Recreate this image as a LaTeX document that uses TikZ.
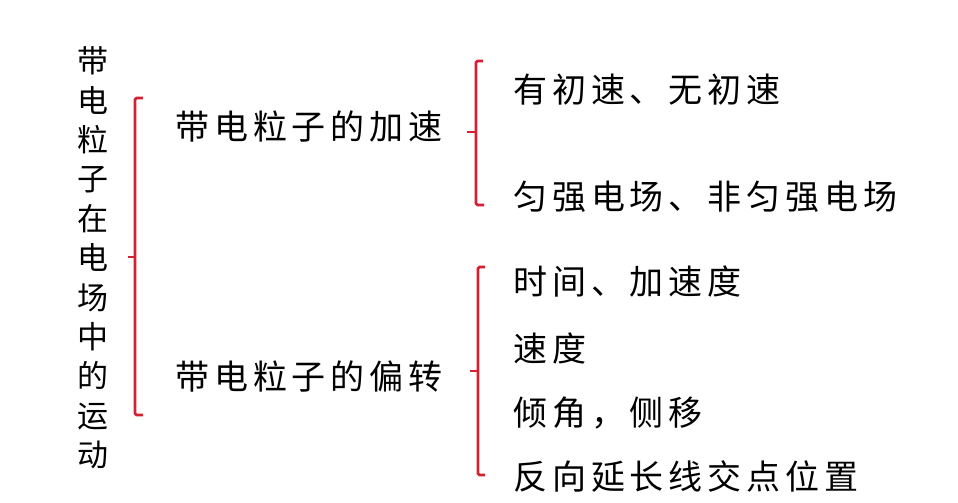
\documentclass[tikz,border=0pt]{standalone}
\usepackage{fontspec}
\setmainfont{Noto Sans CJK SC}[LetterSpace=14.5]
\usepackage{xcolor}
\usepackage{tikz}
\usetikzlibrary{positioning,calc}

\definecolor{bracered}{RGB}{212,32,48}

\begin{document}
\begin{tikzpicture}[
    x=1pt, y=-1pt,
    txt/.style={anchor=west, inner sep=0pt, font=\fontsize{34}{44}\selectfont},
    brace/.style={draw=bracered, line width=2.8pt, rounded corners=1.5pt}
]
    \useasboundingbox (0,0) rectangle (958,503);

    % Title, set vertically
    \node[inner sep=0pt, align=center, font=\fontsize{31}{39.4}\selectfont] (title) at (93,258)
        {带\\电\\粒\\子\\在\\电\\场\\中\\的\\运\\动};

    % Second level
    \node[txt] (acc) at (175,127) {带电粒子的加速};
    \node[txt] (def) at (175,377) {带电粒子的偏转};

    % Leaves of acceleration
    \node[txt] (acc1) at (513,90) {有初速、无初速};
    \node[txt] (acc2) at (513,197) {匀强电场、非匀强电场};

    % Leaves of deflection
    \node[txt] (def1) at (513,282) {时间、加速度};
    \node[txt] (def2) at (513,348) {速度};
    \node[txt] (def3) at (513,413) {倾角，侧移};
    \node[txt] (def4) at (513,477) {反向延长线交点位置};

    % Brace points
    \coordinate (b0) at (135,257);
    \coordinate (b1) at (476,132);
    \coordinate (b2) at (478,371);

    % Big brace
    \draw[brace] ($(b0)+(8,-159)$) -- ($(b0)+(0,-159)$) -- ($(b0)+(0,158)$) -- ($(b0)+(8,158)$);
    \draw[brace] ($(b0)+(-7,0)$) -- (b0);

    % Brace of acceleration
    \draw[brace] ($(b1)+(7,-71)$) -- ($(b1)+(0,-71)$) -- ($(b1)+(0,73)$) -- ($(b1)+(8,73)$);
    \draw[brace] ($(b1)+(-9,0)$) -- (b1);

    % Brace of deflection
    \draw[brace] ($(b2)+(7,-104)$) -- ($(b2)+(0,-104)$) -- ($(b2)+(0,104)$) -- ($(b2)+(7,104)$);
    \draw[brace] ($(b2)+(-8,0)$) -- (b2);

\end{tikzpicture}
\end{document}
